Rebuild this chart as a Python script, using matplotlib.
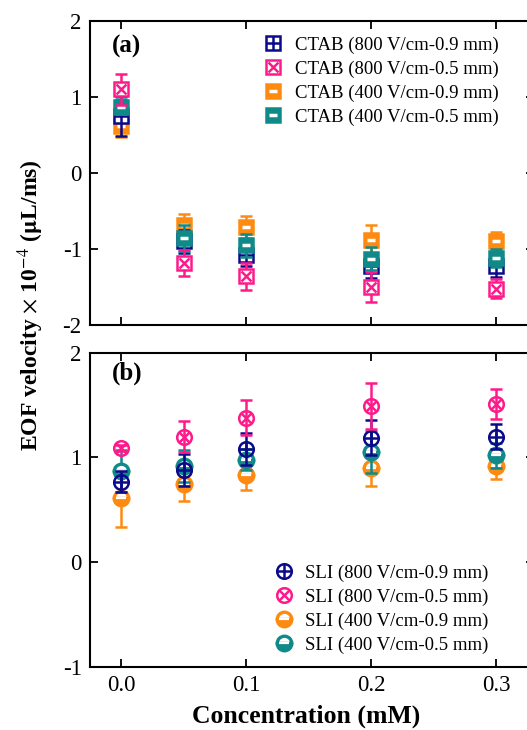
import matplotlib
matplotlib.use("Agg")
import matplotlib.pyplot as plt
from matplotlib.legend_handler import HandlerTuple

plt.rcParams['font.family'] = ['Liberation Serif', 'DejaVu Serif']
plt.rcParams['mathtext.fontset'] = 'stix'

# concentration (mM)
conc = [0.0, 0.05, 0.1, 0.2, 0.3]

# CTAB, EOF velocity x 1e-4 (uL/ms)
ctab_800_09 = [0.75, -0.90, -1.08, -1.23, -1.23]
ctab_800_09_err = [0.26, 0.15, 0.15, 0.15, 0.14]
ctab_800_05 = [1.10, -1.18, -1.36, -1.50, -1.52]
ctab_800_05_err = [0.20, 0.17, 0.18, 0.20, 0.13]
ctab_400_09 = [0.62, -0.69, -0.71, -0.88, -0.90]
ctab_400_09_err = [0.14, 0.15, 0.14, 0.20, 0.13]
ctab_400_05 = [0.87, -0.85, -0.95, -1.13, -1.12]
ctab_400_05_err = [0.10, 0.17, 0.15, 0.15, 0.12]

# SLI
sli_800_09 = [0.77, 0.88, 1.08, 1.19, 1.20]
sli_800_09_err = [0.10, 0.15, 0.15, 0.17, 0.12]
sli_800_05 = [1.09, 1.20, 1.38, 1.49, 1.51]
sli_800_05_err = [0.03, 0.15, 0.17, 0.22, 0.14]
sli_400_09 = [0.61, 0.75, 0.83, 0.90, 0.92]
sli_400_09_err = [0.27, 0.17, 0.14, 0.17, 0.13]
sli_400_05 = [0.87, 0.92, 0.98, 1.05, 1.02]
sli_400_05_err = [0.20, 0.15, 0.10, 0.20, 0.12]

ctab_labels = ['CTAB (800 V/cm-0.9 mm)', 'CTAB (800 V/cm-0.5 mm)',
               'CTAB (400 V/cm-0.9 mm)', 'CTAB (400 V/cm-0.5 mm)']
sli_labels = ['SLI (800 V/cm-0.9 mm)', 'SLI (800 V/cm-0.5 mm)',
              'SLI (400 V/cm-0.9 mm)', 'SLI (400 V/cm-0.5 mm)']

navy = '#0a0a8a'
pink = '#ff1a8c'
orange = '#ff8a10'
teal = '#108a88'
MS = 10.5
MEW = 1.8


def marker_lines(ax, x, y, color, kind):
    # composite markers, returns handles for the legend
    if kind == 'sq_plus':
        a = ax.plot(x, y, 's', ms=MS, mfc='white', mec=color, mew=MEW)[0]
        b = ax.plot(x, y, '+', ms=MS * 0.95, mec=color, mew=MEW)[0]
    elif kind == 'sq_x':
        a = ax.plot(x, y, 's', ms=MS, mfc='white', mec=color, mew=MEW)[0]
        b = ax.plot(x, y, 'x', ms=MS * 0.7, mec=color, mew=MEW)[0]
    elif kind == 'sq_bar':
        a = ax.plot(x, y, 's', ms=MS, mfc=color, mec=color, mew=MEW)[0]
        b = ax.plot(x, y, '_', ms=MS * 0.6, mec='white', mew=2.5)[0]
    elif kind == 'ci_plus':
        a = ax.plot(x, y, 'o', ms=MS, mfc='none', mec=color, mew=MEW)[0]
        b = ax.plot(x, y, '+', ms=MS, mec=color, mew=MEW)[0]
    elif kind == 'ci_x':
        a = ax.plot(x, y, 'o', ms=MS, mfc='none', mec=color, mew=MEW)[0]
        b = ax.plot(x, y, 'x', ms=MS * 0.72, mec=color, mew=MEW)[0]
    else:
        a = ax.plot(x, y, 'o', ms=MS, fillstyle='bottom', mfc=color,
                    mfcalt='white', mec=color, mew=2.4)[0]
        b = ax.plot(x, y, '_', ms=MS * 0.75, mec='white', mew=1.6)[0]
    return (a, b)


def series(ax, y, err, color, kind):
    ax.errorbar(conc, y, yerr=err, fmt='none', ecolor=color,
                elinewidth=1.8, capsize=4, capthick=1.8)
    return marker_lines(ax, conc, y, color, kind)


fig = plt.figure(figsize=(5.27, 7.30), dpi=100)
ax1 = fig.add_axes([90 / 527, 1 - 325 / 730, 443.75 / 527, 304 / 730])
ax2 = fig.add_axes([90 / 527, 1 - 667 / 730, 443.75 / 527, 314.3 / 730])

h1 = [
    series(ax1, ctab_400_09, ctab_400_09_err, orange, 'sq_bar'),
    series(ax1, ctab_800_09, ctab_800_09_err, navy, 'sq_plus'),
    series(ax1, ctab_400_05, ctab_400_05_err, teal, 'sq_bar'),
    series(ax1, ctab_800_05, ctab_800_05_err, pink, 'sq_x'),
]
h1 = [h1[1], h1[3], h1[0], h1[2]]

h2 = [
    series(ax2, sli_400_09, sli_400_09_err, orange, 'ci_half'),
    series(ax2, sli_400_05, sli_400_05_err, teal, 'ci_half'),
    series(ax2, sli_800_09, sli_800_09_err, navy, 'ci_plus'),
    series(ax2, sli_800_05, sli_800_05_err, pink, 'ci_x'),
]
h2 = [h2[2], h2[3], h2[0], h2[1]]

for ax in (ax1, ax2):
    ax.set_xlim(-0.025, 0.33)
    ax.set_xticks([0.0, 0.1, 0.2, 0.3])
    ax.tick_params(direction='in', top=True, right=True, length=6,
                   width=1.3, labelsize=16.5, pad=6)
    for s in ax.spines.values():
        s.set_linewidth(1.5)

ax1.set_ylim(-2, 2)
ax1.set_yticks([-2, -1, 0, 1, 2])
ax1.set_yticklabels(['-2', '-1', '0', '1', '2'])
ax1.tick_params(labelbottom=False)
ax2.set_ylim(-1, 2)
ax2.set_yticks([-1, 0, 1, 2])
ax2.set_yticklabels(['-1', '0', '1', '2'])
ax2.set_xticklabels(['0.0', '0.1', '0.2', '0.3'])

ax1.text(0.05, 0.915, '(a)', transform=ax1.transAxes, fontsize=18,
         fontweight='bold', va='center')
ax2.text(0.05, 0.935, '(b)', transform=ax2.transAxes, fontsize=18,
         fontweight='bold', va='center')

ax1.legend(h1, ctab_labels, loc='upper left', bbox_to_anchor=(0.355, 1.005),
           frameon=False, fontsize=13.5, handler_map={tuple: HandlerTuple(ndivide=1)},
           handlelength=0.9, handletextpad=0.75, labelspacing=0.36, numpoints=1)
ax2.legend(h2, sli_labels, loc='lower left', bbox_to_anchor=(0.38, -0.012),
           frameon=False, fontsize=13.5, handler_map={tuple: HandlerTuple(ndivide=1)},
           handlelength=0.9, handletextpad=0.65, labelspacing=0.36, numpoints=1)

fig.text(306 / 527, 1 - 716 / 730, 'Concentration (mM)', ha='center',
         va='center', fontsize=18.5, fontweight='bold')
fig.text(31 / 527, 1 - 305 / 730,
         r'EOF velocity $\times$ 10$^{-4}$ ($\mathbf{\mu}$L/ms)',
         rotation=90, ha='center', va='center', fontsize=17, fontweight='bold')

fig.savefig('out.png', dpi=100)
